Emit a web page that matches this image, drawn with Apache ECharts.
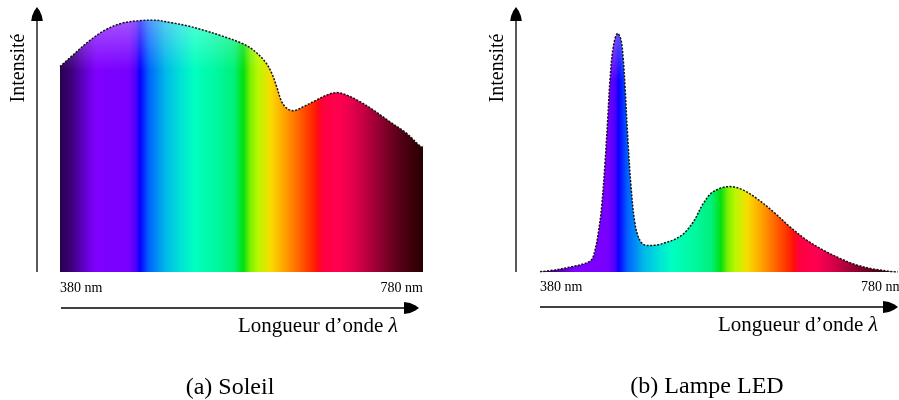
<!DOCTYPE html>
<html>
<head>
<meta charset="utf-8">
<script src="https://cdn.jsdelivr.net/npm/echarts@6/dist/echarts.min.js"></script>
<style>
  html, body { margin: 0; padding: 0; background: #fff; }
  #chart { width: 899px; height: 400px; }
</style>
</head>
<body>
<div id="chart"></div>
<script>
// ---- Data ----
const sunWavelength = [380, 396.5, 411.2, 429.6, 448.0, 466.3, 481.0, 503.1, 521.4, 539.8, 558.2, 580.2, 593.0, 605.9, 613.3, 618.8, 624.3, 629.8, 637.1, 648.1, 662.9, 673.9, 684.9, 695.9, 710.6, 725.2, 743.6, 762.0, 776.7, 780];
const sunIntensity  = [81.5, 86.8, 91.4, 96.0, 98.7, 99.7, 100, 98.9, 97.6, 95.8, 93.7, 90.8, 88.1, 83.5, 78.9, 73.5, 67.6, 65.0, 64.0, 65.6, 68.3, 70.2, 71.2, 70.2, 67.6, 64.3, 59.6, 55.0, 50.0, 49.4];

const ledWavelength = [380, 396.8, 415.4, 430.3, 437.8, 441.5, 445.1, 448.9, 452.6, 455.6, 458.2, 461.9, 466.8, 470.5, 473.1, 475.0, 478.0, 481.7, 486.1, 491.7, 499.2, 512.2, 519.7, 529.0, 540.1, 551.3, 562.5, 573.6, 592.3, 607.1, 622.1, 640.7, 659.3, 677.9, 696.5, 715.2, 733.8, 752.4, 774.7, 780];
const ledIntensity  = [0.1, 0.8, 2.1, 3.4, 5.0, 8.7, 15.4, 25.9, 43.1, 60.3, 76.2, 89.4, 94.7, 92.1, 84.1, 73.5, 53.7, 33.9, 19.3, 12.5, 10.5, 10.8, 11.6, 12.7, 15.1, 19.9, 27.2, 31.9, 33.9, 32.5, 29.2, 23.9, 17.9, 12.7, 8.7, 5.4, 2.8, 1.2, 0.1, 0];

const xLabels = ['380 nm', '780 nm'];
const xAxisTitle = 'Longueur d’onde ';
const yAxisTitle = 'Intensité';
const captions = ['(a) Soleil', '(b) Lampe LED'];

// spectrum colour stops (fraction of 380–780 nm range)
const stopOffsets = [0, 0.03, 0.07, 0.10, 0.19, 0.21, 0.22, 0.245, 0.29, 0.33, 0.37, 0.43, 0.48, 0.505, 0.525, 0.545, 0.58, 0.62, 0.66, 0.695, 0.71, 0.725, 0.77, 0.81, 0.855, 0.895, 0.935, 0.975, 1];
const stopColors  = ['#2a0050', '#3c0078', '#6400d0', '#7f00ff', '#7800ff', '#4a00ff', '#0a00ff', '#0064ff', '#00b8e8', '#00e0d8', '#00ffc0', '#00f8a0', '#00f078', '#00e010', '#80f000', '#b8f800', '#f8dc00', '#ffa000', '#ff6000', '#ff2800', '#ff0c10', '#ff0040', '#ff0050', '#e0004c', '#b0003c', '#800028', '#580018', '#380008', '#280000'];

// ---- Chart ----
const chart = echarts.init(document.getElementById('chart'), null, { renderer: 'canvas' });
const zip = (xs, ys) => xs.map((x, i) => [x, ys[i]]);
const spectrum = () => new echarts.graphic.LinearGradient(0, 0, 1, 0,
  stopOffsets.map((o, i) => ({ offset: o, color: stopColors[i] })));
const highlight = () => new echarts.graphic.LinearGradient(0, 0, 0, 1, [
  { offset: 0, color: 'rgba(255,255,255,0.32)' },
  { offset: 0.2, color: 'rgba(255,255,255,0)' },
  { offset: 1, color: 'rgba(255,255,255,0)' }
]);

const FONT = '"Liberation Serif", "DejaVu Serif", serif';

function panelSeries(idx, data) {
  return [
    { type: 'line', xAxisIndex: idx, yAxisIndex: idx, data, smooth: 0.35, showSymbol: false, silent: true,
      lineStyle: { width: 0 }, areaStyle: { color: spectrum(), opacity: 1 }, z: 2 },
    { type: 'line', xAxisIndex: idx, yAxisIndex: idx, data, smooth: 0.35, showSymbol: false, silent: true,
      lineStyle: { width: 0 }, areaStyle: { color: highlight(), opacity: 1 }, z: 3 },
    { type: 'line', xAxisIndex: idx, yAxisIndex: idx, data, smooth: 0.35, showSymbol: false, silent: true,
      lineStyle: { width: 1.5, color: '#111', type: [2, 1.5] }, z: 4 }
  ];
}

function arrowUp(x, yTip, yBottom) {
  return [
    { type: 'line', shape: { x1: x, y1: yBottom, x2: x, y2: yTip + 10 }, style: { stroke: '#000', lineWidth: 1.3 } },
    { type: 'polygon', shape: { points: [[x, yTip], [x - 2.8, yTip + 4], [x - 4.9, yTip + 9], [x - 5.8, yTip + 14], [x + 5.8, yTip + 14], [x + 4.9, yTip + 9], [x + 2.8, yTip + 4]] }, style: { fill: '#000' } }
  ];
}
function arrowRight(y, xStart, xTip) {
  return [
    { type: 'line', shape: { x1: xStart, y1: y, x2: xTip - 10, y2: y }, style: { stroke: '#000', lineWidth: 1.3 } },
    { type: 'polygon', shape: { points: [[xTip, y], [xTip - 4, y - 2.8], [xTip - 9, y - 4.9], [xTip - 15, y - 6], [xTip - 15, y + 6], [xTip - 9, y + 4.9], [xTip - 4, y + 2.8]] }, style: { fill: '#000' } }
  ];
}
function txt(x, y, text, size, align, extra) {
  return Object.assign({ type: 'text', x, y, style: { text, font: size + 'px ' + FONT, fill: '#000', textAlign: align, textVerticalAlign: 'middle' } }, extra || {});
}
function xTitle(xRight, y) {
  return { type: 'text', x: xRight, y, style: {
    text: '{n|' + xAxisTitle + '}{l|λ}', textAlign: 'right', textVerticalAlign: 'middle',
    rich: { n: { fontFamily: FONT, fontSize: 21, fill: '#000' }, l: { fontFamily: FONT, fontSize: 22, fontStyle: 'italic', fill: '#000' } } } };
}

const graphics = [].concat(
  arrowUp(37, 7, 272), arrowRight(308, 61, 419),
  arrowUp(516, 7, 272), arrowRight(307, 540, 898),
  [
    txt(19, 68, yAxisTitle, 20, 'center', { rotation: Math.PI / 2 }),
    txt(498, 68, yAxisTitle, 20, 'center', { rotation: Math.PI / 2 }),
    txt(60, 288, xLabels[0], 14, 'left'),
    txt(423, 288, xLabels[1], 14, 'right'),
    txt(540, 287, xLabels[0], 14, 'left'),
    txt(861, 287, xLabels[1], 14, 'left'),
    xTitle(398, 326),
    xTitle(878, 325),
    txt(230, 388, captions[0], 24, 'center'),
    txt(707, 387, captions[1], 24, 'center')
  ]
);

const axisHidden = { show: false };
chart.setOption({
  animation: false,
  backgroundColor: '#fff',
  grid: [
    { left: 60, top: 20, width: 363, height: 252 },
    { left: 540, top: 20, width: 358, height: 252 }
  ],
  xAxis: [
    Object.assign({ type: 'value', gridIndex: 0, min: 380, max: 780 }, axisHidden),
    Object.assign({ type: 'value', gridIndex: 1, min: 380, max: 780 }, axisHidden)
  ],
  yAxis: [
    Object.assign({ type: 'value', gridIndex: 0, min: 0, max: 100 }, axisHidden),
    Object.assign({ type: 'value', gridIndex: 1, min: 0, max: 100 }, axisHidden)
  ],
  series: [].concat(panelSeries(0, zip(sunWavelength, sunIntensity)), panelSeries(1, zip(ledWavelength, ledIntensity))),
  graphic: graphics
});
</script>
</body>
</html>
